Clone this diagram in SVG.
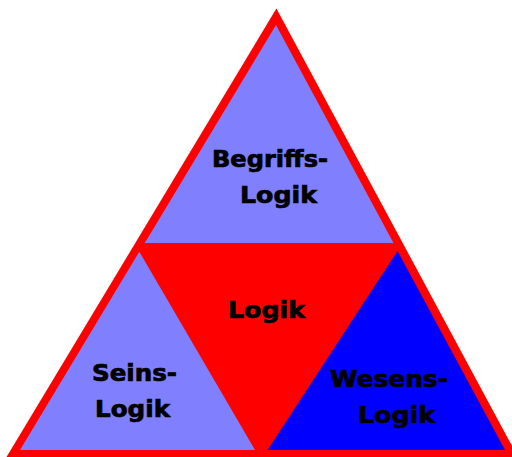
<svg xmlns="http://www.w3.org/2000/svg" width="512" height="457" viewBox="0 0 512 457">
  <style>
    .lb { fill: #8080ff; }
    .db { fill: #0000ff; }
    .rd { fill: #ff0000; }
    .t { font-family: "DejaVu Sans", "Liberation Sans", sans-serif; font-weight: bold; font-size: 22.5px; fill: #000000; stroke: #000000; stroke-width: 0.7px; }
  </style>
  <rect width="512" height="457" fill="#ffffff"/>
  <g id="frame">
    <polygon class="rd" points="276.4,8.5 6.5,457 518,457"/>
  </g>
  <g id="logik">
    <polygon class="rd" points="145,243 393,243 261,450"/>
    <text class="t" x="228" y="318" textLength="77" lengthAdjust="spacingAndGlyphs">Logik</text>
  </g>
  <g id="begriffslogik">
    <polygon class="lb" points="276,25 144.8,243 393.5,243"/>
    <text class="t" x="212" y="167" textLength="116" lengthAdjust="spacingAndGlyphs">Begriffs-</text>
    <text class="t" x="240" y="203" textLength="77" lengthAdjust="spacingAndGlyphs">Logik</text>
  </g>
  <g id="seinslogik">
    <polygon class="lb" points="139.3,251.7 20,450 255,450"/>
    <text class="t" x="92" y="381" textLength="85" lengthAdjust="spacingAndGlyphs">Seins-</text>
    <text class="t" x="95" y="417" textLength="75" lengthAdjust="spacingAndGlyphs">Logik</text>
  </g>
  <g id="wesenslogik">
    <polygon class="db" points="397.5,251 267.5,450 505,450"/>
    <text class="t" x="330" y="387" textLength="118" lengthAdjust="spacingAndGlyphs">Wesens-</text>
    <text class="t" x="358" y="423" textLength="77" lengthAdjust="spacingAndGlyphs">Logik</text>
  </g>
  <g id="connectors"/>
</svg>
